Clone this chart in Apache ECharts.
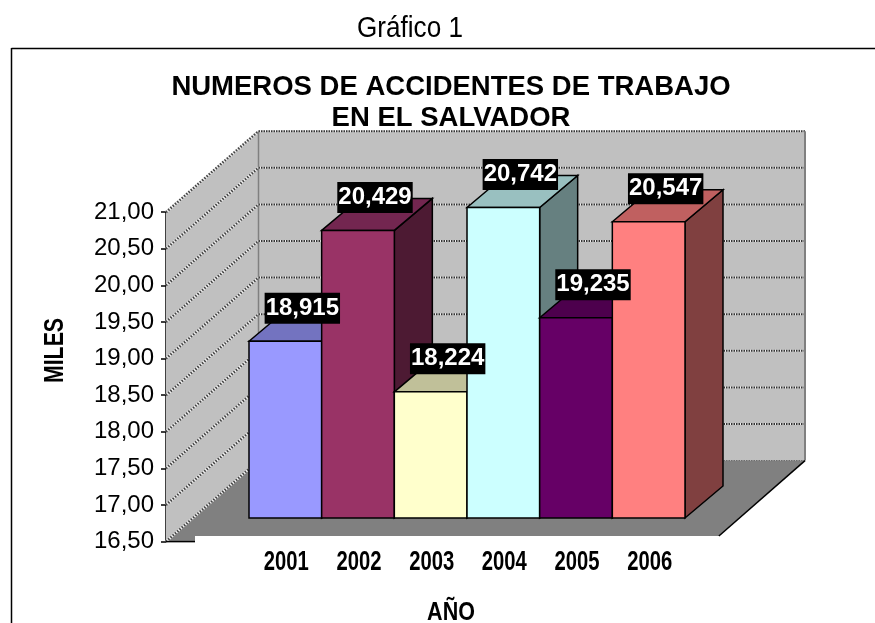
<!DOCTYPE html>
<html><head><meta charset="utf-8">
<style>html,body{margin:0;padding:0;background:#fff}#c{width:875px;height:623px}</style>
<script src="https://cdn.jsdelivr.net/npm/echarts@6/dist/echarts.min.js"></script>
</head><body><div id="c"></div>
<script>
const categories = ['2001','2002','2003','2004','2005','2006'];
const values = [18.915, 20.429, 18.224, 20.742, 19.235, 20.547];
const frontColors = ['#9999FF','#993366','#FFFFCC','#CCFFFF','#660066','#FF8080'];
const topColors = ['#7373C0','#732650','#C0C099','#99C0C0','#4D004D','#C06060'];
const sideColors = ['#4D4D80','#4D1A33','#808066','#668080','#330033','#804040'];
const tickValues = [16.5,17,17.5,18,18.5,19,19.5,20,20.5,21];
const yMin = 16.5, yMax = 21;
const comma = (v, d) => v.toFixed(d).replace('.', ',');
const sans = '"Liberation Sans",Arial,sans-serif';
const WALL = [92.5, -81], BAR = [38, -32], clipY = 536;

function renderBackground(params, api) {
  const p0 = api.coord([0, yMin]), p1 = api.coord([1, yMin]), t0 = api.coord([0, yMax]);
  const bk = (p) => [p[0] + WALL[0], p[1] + WALL[1]];
  const ch = [];
  const shape = (points, fill) => ({type: 'polygon', shape: {points}, style: {fill: fill, stroke: 'none'}});
  const line = (a, b, stroke, w, dash) => ({type: 'line', shape: {x1: a[0], y1: a[1], x2: b[0], y2: b[1]},
    style: {stroke, lineWidth: w, lineDash: dash, fill: 'none'}});
  ch.push(shape([p0, t0, bk(t0), bk(p0)], '#C0C0C0'));
  ch.push(shape([bk(t0), [bk(p1)[0], bk(t0)[1]], bk(p1), bk(p0)], '#C0C0C0'));
  const cutX = p1[0] + (p1[1] - clipY) * (WALL[0] / -WALL[1]);
  ch.push(shape([p0, bk(p0), bk(p1), [cutX, clipY], [p0[0] + 29, clipY], [p0[0] + 29, p0[1]]], '#808080'));
  tickValues.forEach(v => {
    const a = api.coord([0, v]), b = bk(a), c = [bk(p1)[0], b[1]];
    ch.push(line(a, b, '#f0f0f0', 2.5));
    ch.push(line(a, b, '#444', 2.5, [1.5, 1.5]));
    if (v !== yMin) ch.push(line(b, c, '#eee', 2));
    ch.push(line(b, c, v === yMin ? '#666' : '#333', v === yMin ? 1 : 2, [1.5, 1]));
  });
  ch.push(line(bk(p0), bk(t0), '#808080', 1.5));
  ch.push(line(bk(p1), [bk(p1)[0], bk(t0)[1]], '#808080', 2));
  ch.push(line(bk(p1), [cutX, clipY], '#000', 1.5));
  ch.push(line(p0, [p0[0] + 29, p0[1]], '#000', 1.5));
  return {type: 'group', children: ch};
}
function renderBar(params, api) {
  const i = params.dataIndex, v = api.value(1);
  const w = api.size([1, 0])[0];
  const c = api.coord([i, v]), b = api.coord([i, yMin]);
  const L = c[0] - w / 2, R = c[0] + w / 2, T = c[1], B = b[1];
  const st = f => ({fill: f, stroke: '#000', lineWidth: 1.5, lineJoin: 'miter'});
  const dx = BAR[0], dy = BAR[1];
  return {type: 'group', children: [
    {type: 'polygon', shape: {points: [[R, T], [R + dx, T + dy], [R + dx, B + dy], [R, B]]}, style: st(sideColors[i])},
    {type: 'polygon', shape: {points: [[L, T], [L + dx, T + dy], [R + dx, T + dy], [R, T]]}, style: st(topColors[i])},
    {type: 'rect', shape: {x: L, y: T, width: R - L, height: B - T}, style: st(frontColors[i])}
  ]};
}
function renderLabel(params, api) {
  const i = params.dataIndex, v = api.value(1);
  const c = api.coord([i, v]);
  return {type: 'text', x: c[0] + BAR[0] / 2 - 2, y: c[1] + BAR[1] - 1, z2: 100, style: {
    text: comma(v, 3), fill: '#fff', font: 'bold 24px ' + sans, align: 'center', verticalAlign: 'middle',
    backgroundColor: '#000', padding: [4, 1, 3, 1]}};
}
function renderCategory(params, api) {
  const i = params.dataIndex;
  const c = api.coord([i, yMin]);
  return {type: 'text', x: c[0] + 1, y: c[1] + 45, scaleX: 0.75, style: {
    text: categories[i], fill: '#000', font: 'bold 27px ' + sans, align: 'center', verticalAlign: 'middle'}};
}
const chart = echarts.init(document.getElementById('c'), null, {renderer: 'canvas'});
const barData = categories.map((c, i) => [i, values[i]]);
chart.setOption({
  animation: false,
  backgroundColor: '#fff',
  title: [
    {text: 'NUMEROS DE ACCIDENTES DE TRABAJO\nEN EL SALVADOR', left: 446, top: 67, textAlign: 'center',
     textStyle: {fontFamily: sans, fontWeight: 'bold', fontSize: 27.5, lineHeight: 31, color: '#000'}}
  ],
  graphic: [
    {type: 'line', shape: {x1: 11.5, y1: 48.5, x2: 875, y2: 48.5}, style: {stroke: '#000', lineWidth: 1.5}},
    {type: 'line', shape: {x1: 11.5, y1: 48, x2: 11.5, y2: 623}, style: {stroke: '#000', lineWidth: 1.5}},
    {type: 'text', x: 410, y: 29, scaleX: 0.87, style: {text: 'Gráfico 1', font: '30px ' + sans,
     fill: '#000', align: 'center', verticalAlign: 'middle'}},
    {type: 'text', x: 451, y: 613, scaleX: 0.86, style: {text: 'AÑO', font: 'bold 25px ' + sans,
     fill: '#000', align: 'center', verticalAlign: 'middle'}},
    {type: 'text', x: 56, y: 350.5, rotation: Math.PI / 2, scaleX: 0.79, style: {text: 'MILES', font: 'bold 27px ' + sans,
     fill: '#000', align: 'center', verticalAlign: 'middle'}}
  ],
  grid: [
    {left: 249, width: 436, top: 188.6, height: 329.4},
    {left: 166, width: 546.5, top: 212.2, height: 329.4}
  ],
  xAxis: [
    {gridIndex: 0, type: 'category', data: categories, axisLine: {show: false}, axisTick: {show: false}, axisLabel: {show: false}},
    {gridIndex: 1, type: 'value', min: 0, max: 1, show: false}
  ],
  yAxis: [
    {gridIndex: 0, type: 'value', min: yMin, max: yMax, interval: 0.5, show: false},
    {gridIndex: 1, type: 'value', min: yMin, max: yMax, interval: 0.5, splitLine: {show: false},
     axisLine: {show: true, lineStyle: {color: '#000', width: 1.5}},
     axisTick: {show: true, length: 5, lineStyle: {color: '#000', width: 1.5}},
     axisLabel: {margin: 12, fontFamily: sans, fontSize: 24, color: '#000', formatter: v => comma(v, 2)}}
  ],
  series: [
    {type: 'custom', xAxisIndex: 1, yAxisIndex: 1, data: [[0, yMin]], renderItem: renderBackground, silent: true, z: 1},
    {type: 'custom', xAxisIndex: 0, yAxisIndex: 0, data: barData, renderItem: renderBar, z: 2, clip: false},
    {type: 'custom', xAxisIndex: 0, yAxisIndex: 0, data: barData, renderItem: renderCategory, z: 3, clip: false},
    {type: 'custom', xAxisIndex: 0, yAxisIndex: 0, data: barData, renderItem: renderLabel, z: 4, clip: false}
  ]
});
</script></body></html>
